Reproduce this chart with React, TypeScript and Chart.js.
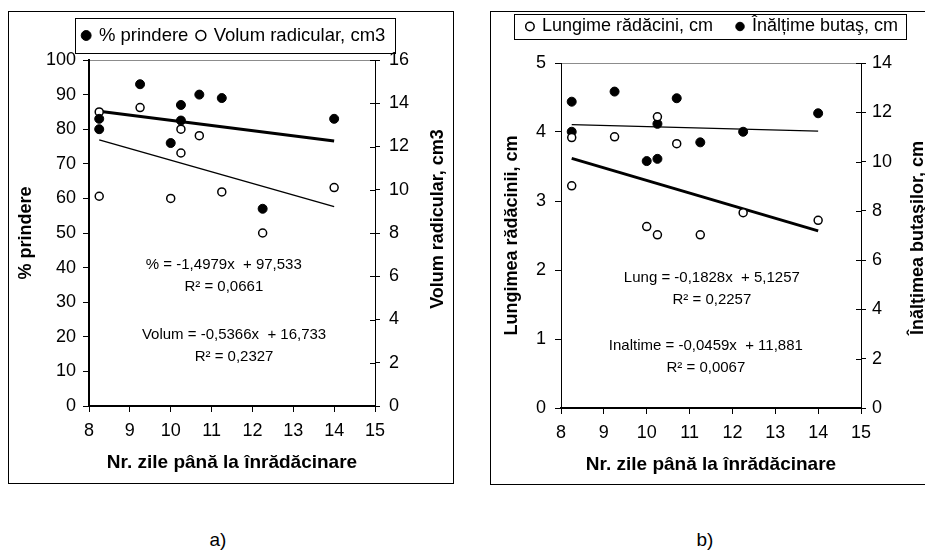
import React, { useEffect, useRef } from "react";
import { Chart, registerables } from "chart.js";

Chart.register(...registerables);

const FONT = '"Liberation Sans", Arial, Helvetica, sans-serif';
Chart.defaults.font.family = FONT;
Chart.defaults.color = "#000";

// ---------- Data: chart a) ----------
const daysA = [8.25, 8.25, 9.25, 10.25, 10.25, 10.7, 11.25, 14, 10, 12.25];
const prindere = [83, 80, 93, 87, 82.5, 90, 89, 83, 76, 57];
const volum = [13.6, 9.7, 13.8, 12.8, 11.7, 12.5, 9.9, 10.1, 9.6, 8.0];
const trendPrindere = [-1.4979, 97.533]; // slope, intercept
const trendVolum = [-0.5366, 16.733];
const eqTextsA = ["% = -1,4979x  + 97,533", "R² = 0,0661", "Volum = -0,5366x  + 16,733", "R² = 0,2327"];

// ---------- Data: chart b) ----------
const daysB = [8.25, 8.25, 9.25, 10.25, 10.25, 10.7, 11.25, 14, 10, 12.25];
const lungime = [3.92, 3.22, 3.93, 4.22, 2.51, 3.83, 2.51, 2.72, 2.63, 2.83];
const inaltime = [12.43, 11.21, 12.84, 11.53, 10.11, 12.57, 10.78, 11.96, 10.02, 11.21];
const trendLungime = [-0.1828, 5.1257];
const trendInaltime = [-0.0459, 11.881];
const eqTextsB = ["Lung = -0,1828x  + 5,1257", "R² = 0,2257", "Inaltime = -0,0459x  + 11,881", "R² = 0,0067"];

// ---------- Tick labels ----------
const xTicks = [8, 9, 10, 11, 12, 13, 14, 15];
const yTicksA = [0, 10, 20, 30, 40, 50, 60, 70, 80, 90, 100];
const y2TicksA = [0, 2, 4, 6, 8, 10, 12, 14, 16];
const yTicksB = [0, 1, 2, 3, 4, 5];
const y2TicksB = [0, 2, 4, 6, 8, 10, 12, 14];

const xTitle = "Nr. zile până la înrădăcinare";

function pts(xs: number[], ys: number[]) {
  return xs.map((x, i) => ({ x, y: ys[i] }));
}
function trend(xs: number[], coef: number[]) {
  const lo = Math.min(...xs);
  const hi = Math.max(...xs);
  return [
    { x: lo, y: coef[0] * lo + coef[1] },
    { x: hi, y: coef[0] * hi + coef[1] },
  ];
}

const extrasPlugin = {
  id: "extras",
  afterDraw(chart: any, _args: any, opts: any) {
    const ctx = chart.ctx;
    const ca = chart.chartArea;
    ctx.save();
    // legend frame
    const hb = chart.legend && chart.legend.legendHitBoxes;
    if (hb && hb.length) {
      const l = Math.min(...hb.map((h: any) => h.left)) - opts.legendPadL;
      const r = Math.max(...hb.map((h: any) => h.left + h.width)) + opts.legendPadR;
      const cy = hb[0].top + hb[0].height / 2;
      ctx.strokeStyle = "#000";
      ctx.lineWidth = 1;
      ctx.strokeRect(Math.round(l) + 0.5, Math.round(cy - opts.legendHalfH) + 0.5, Math.round(r - l), Math.round(opts.legendHalfH * 2));
    }
    // inner part of right-axis ticks
    const y2 = chart.scales.y2;
    ctx.beginPath();
    ctx.strokeStyle = "#000";
    ctx.lineWidth = 1;
    y2.ticks.forEach((t: any) => {
      const py = Math.round(y2.getPixelForValue(t.value)) + 0.5;
      ctx.moveTo(ca.right - 5, py);
      ctx.lineTo(ca.right, py);
    });
    ctx.stroke();
    // right axis title (reads bottom to top)
    ctx.save();
    ctx.translate(opts.rTitleX, opts.rTitleY);
    ctx.rotate(-Math.PI / 2);
    ctx.font = "bold 18px " + FONT;
    ctx.fillStyle = "#000";
    ctx.textAlign = "center";
    ctx.textBaseline = "middle";
    ctx.fillText(opts.rTitle, 0, 0);
    ctx.restore();
    // regression equations
    ctx.font = "15px " + FONT;
    ctx.fillStyle = "#000";
    ctx.textAlign = "center";
    ctx.textBaseline = "middle";
    opts.eqs.forEach((e: any) => {
      const px = chart.scales.x.getPixelForValue(e.x);
      const py = chart.scales.y.getPixelForValue(e.y);
      ctx.fillText(e.text, px, py);
    });
    ctx.restore();
  },
};

function tickSetter(arr: number[]) {
  return (sc: any) => {
    sc.ticks = arr.map((v) => ({ value: v }));
  };
}

function buildConfig(s: any) {
  return {
    type: "scatter",
    data: { datasets: s.datasets },
    plugins: [extrasPlugin],
    options: {
      responsive: false,
      animation: false,
      devicePixelRatio: 1,
      events: [],
      layout: { padding: s.pad },
      plugins: {
        legend: {
          display: true,
          position: "top",
          fullSize: true,
          align: "center",
          labels: {
            usePointStyle: true,
            boxWidth: s.legendBox,
            boxHeight: s.legendBox,
            padding: s.legendPad,
            color: "#000",
            font: { size: s.legendFont, family: FONT },
            filter: (it: any) => it.datasetIndex < 2,
          },
        },
        tooltip: { enabled: false },
        extras: s.extras,
      },
      scales: {
        x: {
          type: "linear",
          position: "bottom",
          min: xTicks[0],
          max: xTicks[xTicks.length - 1],
          afterBuildTicks: tickSetter(xTicks),
          afterFit: (sc: any) => {
            sc.height = s.xH;
          },
          ticks: { color: "#000", font: { size: 18, family: FONT }, padding: 8, autoSkip: false, maxRotation: 0 },
          grid: { display: true, drawOnChartArea: false, drawTicks: true, tickLength: 6, color: "#000", lineWidth: 1 },
          border: { display: true, color: "#000", width: 2 },
          title: {
            display: true,
            text: xTitle,
            color: "#000",
            font: { size: 19, weight: "bold", family: FONT },
            padding: { top: 0, bottom: s.xTitlePad },
          },
        },
        xTop: {
          type: "linear",
          position: "top",
          min: xTicks[0],
          max: xTicks[xTicks.length - 1],
          display: true,
          ticks: { display: false },
          grid: { display: false },
          border: { display: true, color: "#8c8c8c", width: 1 },
          afterFit: (sc: any) => {
            sc.height = s.xTopH;
          },
        },
        y: {
          type: "linear",
          position: "left",
          min: s.yTicks[0],
          max: s.yTicks[s.yTicks.length - 1],
          afterBuildTicks: tickSetter(s.yTicks),
          afterFit: (sc: any) => {
            sc.width = s.yW;
          },
          ticks: { color: "#000", font: { size: 18, family: FONT }, padding: s.yTickPad, autoSkip: false },
          grid: { display: true, drawOnChartArea: false, drawTicks: true, tickLength: 6, color: "#000", lineWidth: 1 },
          border: { display: true, color: "#000", width: s.yBorder },
          title: {
            display: true,
            text: s.yTitle,
            color: "#000",
            font: { size: 18, weight: "bold", family: FONT },
            padding: { top: s.yTitlePad, bottom: 0 },
          },
        },
        y2: {
          type: "linear",
          position: "right",
          min: s.y2Ticks[0],
          max: s.y2Ticks[s.y2Ticks.length - 1],
          afterBuildTicks: tickSetter(s.y2Ticks),
          afterFit: (sc: any) => {
            sc.width = s.y2W;
          },
          ticks: { color: "#000", font: { size: 18, family: FONT }, padding: s.y2TickPad, autoSkip: false },
          grid: { display: true, drawOnChartArea: false, drawTicks: true, tickLength: 5, color: "#000", lineWidth: 1 },
          border: { display: true, color: "#000", width: 1 },
          title: { display: false },
        },
      },
    },
  };
}

const filled = (label: string, data: any, axis: string) => ({
  label,
  data,
  yAxisID: axis,
  xAxisID: "x",
  pointStyle: "circle",
  pointRadius: 4.5,
  backgroundColor: "#000",
  borderColor: "#000",
  borderWidth: 1,
  pointBackgroundColor: "#000",
  pointBorderColor: "#000",
});
const hollow = (label: string, data: any, axis: string) => ({
  label,
  data,
  yAxisID: axis,
  xAxisID: "x",
  pointStyle: "circle",
  pointRadius: 4,
  backgroundColor: "#fff",
  borderColor: "#000",
  borderWidth: 1.5,
  pointBackgroundColor: "#fff",
  pointBorderColor: "#000",
});
const line = (label: string, data: any, axis: string, w: number) => ({
  label,
  data,
  yAxisID: axis,
  xAxisID: "x",
  showLine: true,
  pointRadius: 0,
  borderWidth: w,
  borderColor: "#000",
  backgroundColor: "#000",
  fill: false,
});

function configA() {
  return buildConfig({
    datasets: [
      filled("% prindere", pts(daysA, prindere), "y"),
      hollow("Volum radicular, cm3", pts(daysA, volum), "y2"),
      line("trend %", trend(daysA, trendPrindere), "y", 3),
      line("trend volum", trend(daysA, trendVolum), "y2", 1.5),
    ],
    pad: { left: 7, right: 0, top: 6.25, bottom: 0 },
    legendPad: 9,
    legendFont: 18.5,
    legendBox: 7,
    xH: 77,
    xTopH: 5.25,
    xTitlePad: 8.6,
    yW: 74,
    y2W: 78,
    yTicks: yTicksA,
    y2Ticks: y2TicksA,
    yTickPad: 7,
    y2TickPad: 9,
    yBorder: 2,
    yTitle: "% prindere",
    yTitlePad: 0,
    extras: {
      legendPadL: 8,
      legendPadR: 9,
      legendHalfH: 17.5,
      rTitle: "Volum radicular, cm3",
      rTitleX: 430,
      rTitleY: 208,
      eqs: [
        { text: eqTextsA[0], x: 11.3, y: 40.8 },
        { text: eqTextsA[1], x: 11.3, y: 34.4 },
        { text: eqTextsA[2], x: 11.55, y: 20.5 },
        { text: eqTextsA[3], x: 11.55, y: 14.2 },
      ],
    },
  });
}

function configB() {
  return buildConfig({
    datasets: [
      hollow("Lungime rădăcini, cm", pts(daysB, lungime), "y"),
      filled("Înălțime butaş, cm", pts(daysB, inaltime), "y2"),
      line("trend lung", trend(daysB, trendLungime), "y", 3),
      line("trend inaltime", trend(daysB, trendInaltime), "y2", 1.2),
    ],
    pad: { left: 10, right: 0, top: -17.5, bottom: 0 },
    legendPad: 24,
    legendFont: 18,
    legendBox: 6,
    xH: 76,
    xTopH: 17.5,
    xTitlePad: 7.6,
    yW: 61,
    y2W: 64,
    yTicks: yTicksB,
    y2Ticks: y2TicksB,
    yTickPad: 9,
    y2TickPad: 6,
    yBorder: 1,
    yTitle: "Lungimea rădăcinii, cm",
    yTitlePad: 1,
    extras: {
      legendPadL: 13,
      legendPadR: 8,
      legendHalfH: 12.5,
      rTitle: "Înălţimea butaşilor, cm",
      rTitleX: 428,
      rTitleY: 227,
      eqs: [
        { text: eqTextsB[0], x: 11.52, y: 1.884 },
        { text: eqTextsB[1], x: 11.52, y: 1.565 },
        { text: eqTextsB[2], x: 11.38, y: 0.899 },
        { text: eqTextsB[3], x: 11.38, y: 0.58 },
      ],
    },
  });
}

function ChartCanvas(props: { make: () => any; left: number; top: number; width: number; height: number }) {
  const ref = useRef<HTMLCanvasElement>(null);
  useEffect(() => {
    const chart = new Chart(ref.current as HTMLCanvasElement, props.make());
    return () => chart.destroy();
  }, []);
  return (
    <canvas
      ref={ref}
      width={props.width}
      height={props.height}
      style={{ position: "absolute", left: props.left, top: props.top, width: props.width, height: props.height }}
    />
  );
}

export default function App() {
  return (
    <div
      style={{
        position: "absolute",
        left: 0,
        top: 0,
        width: 925,
        height: 552,
        overflow: "hidden",
        background: "#fff",
        fontFamily: FONT,
      }}
    >
      <div
        style={{ position: "absolute", left: 8, top: 11, width: 446, height: 473, border: "1px solid #000", boxSizing: "border-box" }}
      />
      <div
        style={{ position: "absolute", left: 490, top: 11, width: 460, height: 474, border: "1px solid #000", boxSizing: "border-box" }}
      />
      <ChartCanvas make={configA} left={8} top={11} width={445} height={472} />
      <ChartCanvas make={configB} left={490} top={11} width={435} height={473} />
      <div style={{ position: "absolute", left: 188, top: 529, width: 60, textAlign: "center", fontSize: 19, lineHeight: "22px", color: "#000" }}>
        a)
      </div>
      <div style={{ position: "absolute", left: 675, top: 529, width: 60, textAlign: "center", fontSize: 19, lineHeight: "22px", color: "#000" }}>
        b)
      </div>
    </div>
  );
}
